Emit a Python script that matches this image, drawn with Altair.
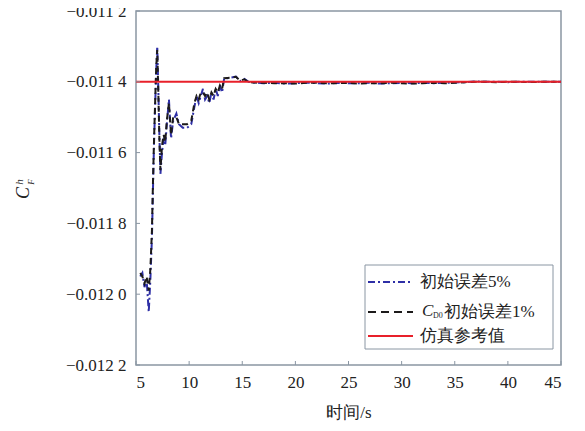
import altair as alt
import pandas as pd

# ---- data ----
time_5 = [5.4, 5.6, 5.8, 6.0, 6.2, 6.35, 6.5, 6.6, 6.7, 6.8, 6.9, 7.0, 7.1, 7.2, 7.3, 7.45, 7.6, 7.75, 7.9, 8.1,
          8.3, 8.5, 8.8, 9.05, 9.4, 9.8, 10.2, 10.5, 10.7, 10.9, 11.1, 11.3, 11.5, 11.7, 11.9, 12.1, 12.3,
          12.5, 12.7, 12.9, 13.1, 13.3, 13.6, 14.0, 14.4, 14.8, 15.2, 15.6, 16, 17, 18, 19, 20, 21, 22, 23,
          24, 25, 26, 27, 28, 29, 30, 31, 32, 33, 34, 35, 36, 37, 38, 39, 40, 41, 42, 43, 44, 45]
cf_5 = [-0.01195, -0.01194, -0.01198, -0.01196, -0.01205, -0.01196, -0.01184, -0.01170, -0.01157, -0.01147,
        -0.01137, -0.01130, -0.01142, -0.01155, -0.01166, -0.01160, -0.01156, -0.01158, -0.01152, -0.01145,
        -0.01156, -0.01151, -0.01149, -0.01152, -0.01153, -0.01153, -0.01152, -0.01147, -0.01144, -0.01146,
        -0.01144, -0.01142, -0.01145, -0.01144, -0.01146, -0.01143, -0.01145, -0.01142, -0.01144, -0.01141,
        -0.01143, -0.01139, -0.011390, -0.011388, -0.011385, -0.011398, -0.011392, -0.011400, -0.011402,
        -0.011404, -0.011403, -0.011405, -0.011404, -0.011402, -0.011404, -0.011405, -0.011403, -0.011404,
        -0.011404, -0.011403, -0.011405, -0.011404, -0.011403, -0.011404, -0.011403, -0.011404, -0.011403,
        -0.011402, -0.011401, -0.011399, -0.011400, -0.011400, -0.011401, -0.011400, -0.011400, -0.011400,
        -0.011400, -0.011400]

time_1 = [5.4, 5.6, 5.8, 6.0, 6.2, 6.35, 6.5, 6.6, 6.7, 6.8, 6.9, 7.0, 7.1, 7.2, 7.3, 7.45, 7.6, 7.75, 7.9, 8.1,
          8.3, 8.5, 8.8, 9.05, 9.4, 9.8, 10.2, 10.5, 10.7, 10.9, 11.1, 11.3, 11.5, 11.7, 11.9, 12.1, 12.3,
          12.5, 12.7, 12.9, 13.1, 13.3, 13.6, 14.0, 14.4, 14.8, 15.2, 15.6, 16, 17, 18, 19, 20, 21, 22, 23,
          24, 25, 26, 27, 28, 29, 30, 31, 32, 33, 34, 35, 36, 37, 38, 39, 40, 41, 42, 43, 44, 45]
cf_1 = [-0.01194, -0.01195, -0.01197, -0.01195, -0.01199, -0.01193, -0.01182, -0.01168, -0.01156, -0.01146,
        -0.01136, -0.01131, -0.01143, -0.01156, -0.01165, -0.01158, -0.01155, -0.01157, -0.01151, -0.01146,
        -0.01155, -0.01150, -0.01150, -0.01152, -0.01152, -0.01152, -0.01151, -0.01146, -0.01144, -0.01145,
        -0.01143, -0.01143, -0.01144, -0.01143, -0.01145, -0.01143, -0.01144, -0.01142, -0.01143, -0.01141,
        -0.01142, -0.01139, -0.011389, -0.011388, -0.011386, -0.011397, -0.011393, -0.011401, -0.011402,
        -0.011403, -0.011404, -0.011404, -0.011405, -0.011403, -0.011403, -0.011404, -0.011404, -0.011403,
        -0.011405, -0.011404, -0.011404, -0.011403, -0.011404, -0.011405, -0.011404, -0.011403, -0.011404,
        -0.011403, -0.011401, -0.011400, -0.011400, -0.011401, -0.011400, -0.011400, -0.011401, -0.011400,
        -0.011400, -0.011400]

ref_value = -0.01140
x_range = [5, 45]
y_range = [-0.0122, -0.0112]
x_ticks = [5, 10, 15, 20, 25, 30, 35, 40, 45]
y_ticks = [-0.0122, -0.0120, -0.0118, -0.0116, -0.0114, -0.0112]
legend_labels = ["初始误差5%", "初始误差1%", "仿真参考值"]

W, H = 425, 354
AX = "#8a96a3"
SERIF = "Liberation Serif"
BLUE = "#2e2fa6"
BLACK = "#1c1a1a"
RED = "#e8202a"

df5 = pd.DataFrame({"t": time_5, "v": cf_5})
df1 = pd.DataFrame({"t": time_1, "v": cf_1})
dfref = pd.DataFrame({"t": x_range, "v": [ref_value, ref_value]})
dfx = pd.DataFrame({"t": x_ticks})
dfy = pd.DataFrame({"v": y_ticks})
one = pd.DataFrame({"k": [0]})

xscale = alt.Scale(domain=x_range, nice=False, zero=False)
yscale = alt.Scale(domain=y_range, nice=False, zero=False)

ylab = ("'\u2212' + substring(format(-datum.value, '.4f'), 0, 5) + ' ' + "
        "substring(format(-datum.value, '.4f'), 5)")

X = alt.X("t:Q", scale=xscale,
          axis=alt.Axis(values=x_ticks, tickSize=0, domain=False, grid=False, labelPadding=9,
                        labelFont=SERIF, labelFontSize=17, labelColor="#222",
                        title="时间/s", titleFont=SERIF, titleFontSize=17, titleFontWeight="normal",
                        titleColor="#222", titlePadding=14),
          title="时间/s")
Y = alt.Y("v:Q", scale=yscale,
          axis=alt.Axis(values=y_ticks, tickSize=0, domain=False, grid=False, labelPadding=10,
                        labelFont=SERIF, labelFontSize=17, labelColor="#222", labelExpr=ylab,
                        labelBound=False, labelFlush=False),
          title=None)

line5 = alt.Chart(df5).mark_line(color=BLUE, strokeWidth=2, strokeDash=[7, 3, 2, 3]).encode(x=X, y=Y)
line1 = alt.Chart(df1).mark_line(color=BLACK, strokeWidth=2, strokeDash=[6, 4]).encode(
    x=alt.X("t:Q", scale=xscale), y=alt.Y("v:Q", scale=yscale))
lineref = alt.Chart(dfref).mark_line(color=RED, strokeWidth=2).encode(
    x=alt.X("t:Q", scale=xscale), y=alt.Y("v:Q", scale=yscale))

xt = alt.Chart(dfx).mark_rule(color=AX, strokeWidth=1).encode(
    x=alt.X("t:Q", scale=xscale), y=alt.value(H), y2=alt.value(H - 4))
yt = alt.Chart(dfy).mark_rule(color=AX, strokeWidth=1).encode(
    y=alt.Y("v:Q", scale=yscale), x=alt.value(0), x2=alt.value(4))

# y-axis title C_F^h (rotated)
yt_c = alt.Chart(one).mark_text(text="C", font=SERIF, fontStyle="italic", fontSize=18, angle=270,
                                align="center", baseline="middle", color="#222").encode(
    x=alt.value(-112), y=alt.value(182))
yt_h = alt.Chart(one).mark_text(text="h", font=SERIF, fontStyle="italic", fontSize=11, angle=270,
                                align="center", baseline="middle", color="#222").encode(
    x=alt.value(-116), y=alt.value(171))
yt_f = alt.Chart(one).mark_text(text="F", font=SERIF, fontStyle="italic", fontSize=9, angle=270,
                                align="center", baseline="middle", color="#222").encode(
    x=alt.value(-105), y=alt.value(171))

# legend
box = alt.Chart(one).mark_rect(fill="white", stroke=AX, strokeWidth=1).encode(
    x=alt.value(229), x2=alt.value(417), y=alt.value(254), y2=alt.value(338))
lg1 = alt.Chart(one).mark_rule(color=BLUE, strokeWidth=2, strokeDash=[7, 3, 2, 3]).encode(
    x=alt.value(232), x2=alt.value(277), y=alt.value(271))
lg2 = alt.Chart(one).mark_rule(color=BLACK, strokeWidth=2, strokeDash=[8, 5]).encode(
    x=alt.value(232), x2=alt.value(277), y=alt.value(301))
lg3 = alt.Chart(one).mark_rule(color=RED, strokeWidth=2).encode(
    x=alt.value(232), x2=alt.value(277), y=alt.value(325))
tstyle = dict(font=SERIF, fontSize=17, align="left", baseline="middle", color="#222")
lt1 = alt.Chart(one).mark_text(text=legend_labels[0], **tstyle).encode(x=alt.value(284), y=alt.value(271))
lt2c = alt.Chart(one).mark_text(text="C", font=SERIF, fontStyle="italic", fontSize=17, align="left",
                                baseline="middle", color="#222").encode(x=alt.value(286), y=alt.value(300))
lt2d = alt.Chart(one).mark_text(text="D0", font=SERIF, fontSize=8, align="left",
                                baseline="middle", color="#222").encode(x=alt.value(297), y=alt.value(305))
lt2 = alt.Chart(one).mark_text(text=legend_labels[1], **tstyle).encode(x=alt.value(308), y=alt.value(301))
lt3 = alt.Chart(one).mark_text(text=legend_labels[2], **tstyle).encode(x=alt.value(284), y=alt.value(325))

chart = alt.layer(
    line5, line1, lineref, xt, yt, yt_c, yt_h, yt_f,
    box, lg1, lg2, lg3, lt1, lt2c, lt2d, lt2, lt3
).properties(
    width=W, height=H,
    autosize=alt.AutoSizeParams(type="none"),
    padding={"left": 128, "top": 3, "right": 16, "bottom": 58},
    background="white",
).configure_view(
    stroke=AX, strokeWidth=1.5
)

chart.save("out.html", embed_options={"renderer": "svg", "actions": False})
